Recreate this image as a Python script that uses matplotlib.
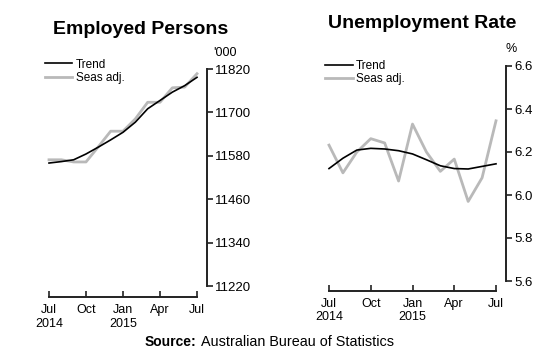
import matplotlib
matplotlib.use("Agg")
import matplotlib.pyplot as plt

plt.rcParams['font.family'] = ['Liberation Sans', 'DejaVu Sans']

months = ["Jul 2014", "Aug", "Sep", "Oct", "Nov", "Dec", "Jan 2015", "Feb", "Mar", "Apr", "May", "Jun", "Jul 2015"]
x_tick_pos = [0, 3, 6, 9, 12]
x_tick_labels = ["Jul\n2014", "Oct", "Jan\n2015", "Apr", "Jul"]

emp_trend = [11560, 11564, 11569, 11585, 11604, 11624, 11645, 11673, 11710, 11733, 11756, 11774, 11797]
emp_seas = [11569, 11569, 11563, 11563, 11605, 11648, 11648, 11682, 11728, 11728, 11768, 11770, 11807]
emp_yticks = [11220, 11340, 11460, 11580, 11700, 11820]

ur_trend = [6.123, 6.171, 6.209, 6.217, 6.214, 6.206, 6.191, 6.164, 6.136, 6.123, 6.121, 6.133, 6.145]
ur_seas = [6.232, 6.103, 6.20, 6.262, 6.242, 6.065, 6.330, 6.20, 6.110, 6.167, 5.970, 6.080, 6.345]
ur_yticks = [5.6, 5.8, 6.0, 6.2, 6.4, 6.6]

W, H = 546, 359
fig = plt.figure(figsize=(W / 100, H / 100), dpi=100)

GRAY = '#b9b9b9'
SPINE = '#222222'


def style(ax, ylo, yhi, yticks, ylabels, off_r, off_b):
    n = list(range(len(months)))
    ax.set_xlim(0, 12)
    ax.set_ylim(ylo, yhi)
    for s in ['top', 'left']:
        ax.spines[s].set_visible(False)
    ax.spines['right'].set_position(('outward', off_r))
    ax.spines['bottom'].set_position(('outward', off_b))
    for s in ['right', 'bottom']:
        ax.spines[s].set_linewidth(1.4)
        ax.spines[s].set_color(SPINE)
    ax.yaxis.tick_right()
    ax.set_yticks(yticks)
    ax.set_yticklabels(ylabels)
    ax.set_xticks(x_tick_pos)
    ax.set_xticklabels(x_tick_labels)
    ax.tick_params(axis='y', direction='out', length=4, width=1.2, color=SPINE, pad=2, labelsize=9.5)
    ax.tick_params(axis='x', direction='in', length=4, width=1.2, color=SPINE, pad=5, labelsize=9)
    ax.patch.set_visible(False)
    return n


# Left panel: Employed Persons
ax1 = fig.add_axes([49 / W, 1 - 286 / H, 148 / W, 217 / H])
n = style(ax1, 11220, 11820, emp_yticks, [str(v) for v in emp_yticks], 7, 8)
ax1.plot(n, emp_seas, color=GRAY, lw=2.0, label='Seas adj.', clip_on=False)
ax1.plot(n, emp_trend, color='black', lw=1.2, label='Trend', clip_on=False)
h, l = ax1.get_legend_handles_labels()
ax1.legend(h[::-1], l[::-1], loc='upper left', bbox_to_anchor=(-0.06, 1.07), frameon=False,
           fontsize=8.5, handlelength=2.3, handletextpad=0.3, labelspacing=0.1, borderaxespad=0)
fig.text(141 / W, 1 - 29 / H, "Employed Persons", ha='center', va='center', fontsize=14, fontweight='bold')
fig.text(213 / W, 1 - 53 / H, "'000", ha='left', va='center', fontsize=9)

# Right panel: Unemployment Rate
ax2 = fig.add_axes([329 / W, 1 - 281 / H, 167 / W, 215 / H])
n = style(ax2, 5.6, 6.6, ur_yticks, ["%.1f" % v for v in ur_yticks], 7, 7)
ax2.plot(n, ur_seas, color=GRAY, lw=2.0, label='Seas adj.', clip_on=False)
ax2.plot(n, ur_trend, color='black', lw=1.2, label='Trend', clip_on=False)
h, l = ax2.get_legend_handles_labels()
ax2.legend(h[::-1], l[::-1], loc='upper left', bbox_to_anchor=(-0.05, 1.05), frameon=False,
           fontsize=8.5, handlelength=2.3, handletextpad=0.3, labelspacing=0.1, borderaxespad=0)
fig.text(422 / W, 1 - 24 / H, "Unemployment Rate", ha='center', va='center', fontsize=14, fontweight='bold')
fig.text(511 / W, 1 - 49 / H, "%", ha='center', va='center', fontsize=9)

# Source (bold label followed by regular text)
t1 = fig.text(145 / W, 1 - 342 / H, "Source:", ha='left', va='center', fontsize=10, fontweight='bold')
fig.canvas.draw()
bb = t1.get_window_extent()
fig.text((bb.x1 + 4) / W, 1 - 342 / H, "Australian Bureau of Statistics", ha='left', va='center', fontsize=10.4)

fig.savefig("out.png", dpi=100)
